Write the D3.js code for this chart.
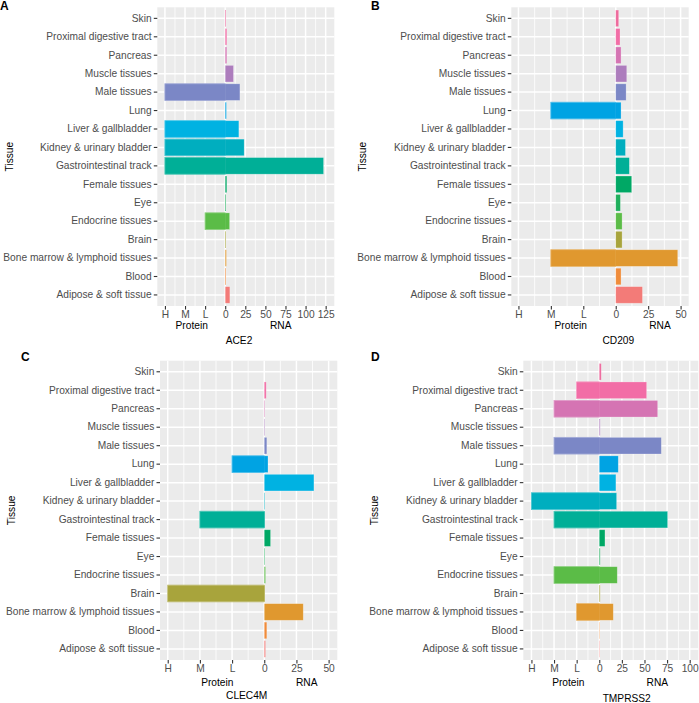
<!DOCTYPE html>
<html><head><meta charset="utf-8">
<script src="https://cdn.jsdelivr.net/npm/d3@7"></script>
<style>
body{margin:0;background:#fff}
svg{display:block}
text{font-family:"Liberation Sans",Arial,Helvetica,sans-serif}
</style>
</head><body><svg id="chart" width="699" height="703"></svg>
<script>
// ---- data (bottom to top order) ----
const tissues = ["Adipose & soft tissue","Blood","Bone marrow & lymphoid tissues","Brain","Endocrine tissues","Eye","Female tissues","Gastrointestinal track","Kidney & urinary bladder","Liver & gallbladder","Lung","Male tissues","Muscle tissues","Pancreas","Proximal digestive tract","Skin"];
const tissueColors = ["#F37B78","#F08C3A","#E0982F","#A8A43C","#5BBC47","#1FAF5C","#00A865","#00AF97","#00AEBF","#00B2E2","#00A3E3","#7B87C6","#AD7DBD","#D574B3","#F26DA6","#EE6A9D"];

// protein level: 0 none, 1 L, 2 M, 3 H ; RNA expression values
const ace2Protein = [0,0,0,0,1,0,0,3,3,3,0,3,0,0,0,0];
const ace2RNA     = [5.8,1,1.5,1,5.5,1,2,122.4,23.6,17,1.5,18.3,10.3,2,2,1];
const cd209Protein = [0,0,2,0,0,0,0,0,0,0,2,0,0,0,0,0];
const cd209RNA     = [20.6,4.1,47.8,4.9,4.9,3.6,12.3,10.5,7.5,5.7,4.1,8,8.5,4.1,3.3,2.3];
const clec4mProtein = [0,0,0,3,0,0,0,2,0,0,1,0,0,0,0,0];
const clec4mRNA     = [1,2,30.3,0.5,1,0.5,4.9,0.5,0.5,38.6,2.9,2,0.5,0.5,1.5,0];
const tmprss2Protein = [0,0,1,0,2,0,0,2,3,0,0,2,0,2,1,0];
const tmprss2RNA     = [0.5,0.5,15.5,1,19.9,1,6.3,75.6,19.2,18.4,21,68.6,1,64.6,52.4,2.2];

const tickLabelsA = ["H","M","L","0","25","50","75","100","125"];
const tickLabelsB = ["H","M","L","0","25","50"];
const tickLabelsC = ["H","M","L","0","25","50"];
const tickLabelsD = ["H","M","L","0","25","50","75","100"];
const rnaPerUnit = 25;

// ---- layout ----
const panels = [
  {letter:"A", gene:"ACE2", protein:ace2Protein, rna:ace2RNA, ticks:tickLabelsA,
   l:157.3, r:334.3, t:7.3, b:306, dom:[-3.38,5.43], pX:191.7, rX:280.7, gX:239, tissueX:9, letX:0, letY:1,
   protDy:19.3, geneDy:34},
  {letter:"B", gene:"CD209", protein:cd209Protein, rna:cd209RNA, ticks:tickLabelsB,
   l:511.3, r:688.7, t:7.3, b:306, dom:[-3.22,2.25], pX:570.7, rX:660, gX:618.3, tissueX:362, letX:371, letY:1,
   protDy:19.3, geneDy:34},
  {letter:"C", gene:"CLEC4M", protein:clec4mProtein, rna:clec4mRNA, ticks:tickLabelsC,
   l:160, r:337.3, t:360.7, b:660, dom:[-3.24,2.27], pX:217.3, rX:306.7, gX:246.7, tissueX:11, letX:21, letY:352,
   protDy:22.3, geneDy:35.7},
  {letter:"D", gene:"TMPRSS2", protein:tmprss2Protein, rna:tmprss2RNA, ticks:tickLabelsD,
   l:523.3, r:698.3, t:360.7, b:660, dom:[-3.36,4.38], pX:568.3, rX:657.3, gX:626.7, tissueX:374, letX:371, letY:352,
   protDy:22.3, geneDy:38}
];

const svg = d3.select("#chart");
const fs = 10.2;

panels.forEach(p => {
  const g = svg.append("g");
  const x = d3.scaleLinear().domain(p.dom).range([p.l, p.r]);
  const y = d3.scaleBand().domain(tissues.slice().reverse()).range([p.t, p.b]).paddingInner(0.1).paddingOuter(0.15);
  const tickVals = p.ticks.map((_, i) => i - 3);

  g.append("rect").attr("x", p.l).attr("y", p.t).attr("width", p.r - p.l).attr("height", p.b - p.t).attr("fill", "#EBEBEB");
  const minors = [];
  for (let v = tickVals[0] - 0.5; v <= tickVals[tickVals.length-1] + 0.5; v += 1) {
    if (v >= p.dom[0] && v <= p.dom[1]) minors.push(v);
  }
  g.selectAll(".mn").data(minors).enter().append("line")
    .attr("x1", d => x(d)).attr("x2", d => x(d)).attr("y1", p.t).attr("y2", p.b)
    .attr("stroke", "#fff").attr("stroke-width", 0.8);
  g.selectAll(".mj").data(tickVals).enter().append("line")
    .attr("x1", d => x(d)).attr("x2", d => x(d)).attr("y1", p.t).attr("y2", p.b)
    .attr("stroke", "#fff").attr("stroke-width", 1.5);
  g.selectAll(".hz").data(tissues).enter().append("line")
    .attr("x1", p.l).attr("x2", p.r)
    .attr("y1", d => y(d) + y.bandwidth()/2).attr("y2", d => y(d) + y.bandwidth()/2)
    .attr("stroke", "#fff").attr("stroke-width", 1.5);

  const rows = tissues.map((t, i) => ({t, p: p.protein[i], r: p.rna[i], c: tissueColors[i]}));

  // RNA bars (to the right of 0)
  g.selectAll(".rb").data(rows.filter(d => d.r > 0)).enter().append("rect")
    .attr("x", x(0)).attr("width", d => x(d.r / rnaPerUnit) - x(0))
    .attr("y", d => y(d.t)).attr("height", y.bandwidth())
    .attr("fill", d => d.c);
  // protein bars (to the left of 0), own-colour stroke hides the seam at 0
  g.selectAll(".pb").data(rows.filter(d => d.p > 0)).enter().append("rect")
    .attr("x", d => x(-d.p)).attr("width", d => x(0) - x(-d.p))
    .attr("y", d => y(d.t)).attr("height", y.bandwidth())
    .attr("fill", d => d.c).attr("stroke", d => d.c).attr("stroke-width", 0.8);
  // light outline around each row's bars
  g.selectAll(".ol").data(rows.filter(d => d.p > 0 || d.r > 0)).enter().append("rect")
    .attr("x", d => x(-d.p)).attr("width", d => x(d.r / rnaPerUnit) - x(-d.p))
    .attr("y", d => y(d.t)).attr("height", y.bandwidth())
    .attr("fill", "none").attr("stroke", "rgba(255,255,255,0.35)").attr("stroke-width", 0.7);

  const ax = g.append("g").attr("transform", `translate(0,${p.b})`)
    .call(d3.axisBottom(x).tickValues(tickVals).tickFormat((d, i) => p.ticks[i]).tickSize(3.5).tickPadding(1.5));
  const ay = g.append("g").attr("transform", `translate(${p.l},0)`)
    .call(d3.axisLeft(y).tickSize(3.5).tickPadding(2.2));
  [ax, ay].forEach(a => {
    a.select(".domain").remove();
    a.selectAll(".tick line").attr("stroke", "#333333").attr("stroke-width", 1.1);
    a.selectAll(".tick text").attr("fill", "#4D4D4D").style("font-size", fs + "px").style("font-family", '"Liberation Sans",Arial,sans-serif');
  });

  g.append("text").attr("transform", `translate(${p.tissueX},${(p.t + p.b)/2}) rotate(-90)`)
    .attr("text-anchor", "middle").attr("dominant-baseline", "central")
    .style("font-size", fs + "px").attr("fill", "#000").text("Tissue");
  g.append("text").attr("x", p.pX).attr("y", p.b + p.protDy).attr("text-anchor", "middle").attr("dominant-baseline", "central")
    .style("font-size", fs + "px").attr("fill", "#000").text("Protein");
  g.append("text").attr("x", p.rX).attr("y", p.b + p.protDy).attr("text-anchor", "middle").attr("dominant-baseline", "central")
    .style("font-size", fs + "px").attr("fill", "#000").text("RNA");
  g.append("text").attr("x", p.gX).attr("y", p.b + p.geneDy).attr("text-anchor", "middle").attr("dominant-baseline", "central")
    .style("font-size", fs + "px").attr("fill", "#000").text(p.gene);
  g.append("text").attr("x", p.letX).attr("y", p.letY).attr("dominant-baseline", "hanging")
    .style("font-size", "12px").style("font-weight", "bold").attr("fill", "#000").text(p.letter);
});
</script>
</body></html>
